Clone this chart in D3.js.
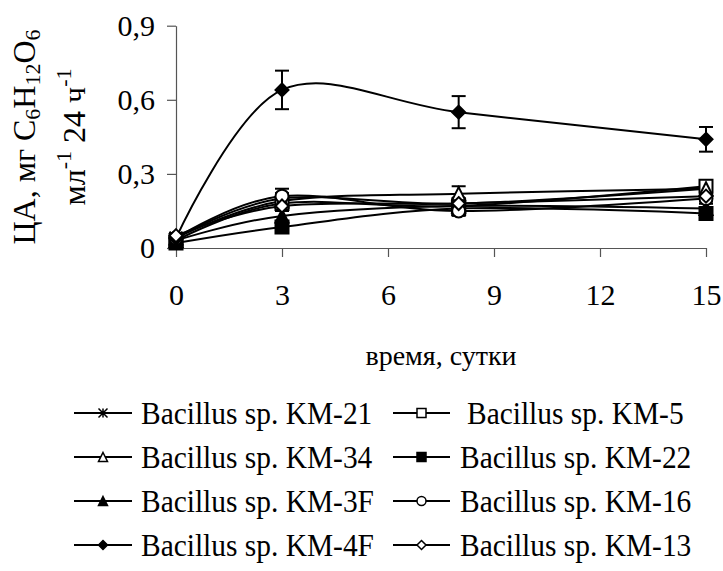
<!DOCTYPE html>
<html>
<head>
<meta charset="utf-8">
<script src="https://cdn.jsdelivr.net/npm/d3@7"></script>
<style>
  body { margin: 0; background: #fff; }
  text { font-family: "Liberation Serif", "Times New Roman", serif; fill: #000; }
</style>
</head>
<body>
<svg id="chart" width="723" height="571" font-family="Liberation Serif, Times New Roman, serif"></svg>
<script>
"use strict";

// data ************************************************************
var days = [0, 3, 8, 15];
var xTicks = [0, 3, 6, 9, 12, 15];
var yTicks = [0, 0.3, 0.6, 0.9];
var yTickLabels = ["0", "0,3", "0,6", "0,9"];

var seriesNames = ["Bacillus sp. KM-21", "Bacillus sp. KM-5", "Bacillus sp. KM-34", "Bacillus sp. KM-22",
                   "Bacillus sp. KM-3F", "Bacillus sp. KM-16", "Bacillus sp. KM-4F", "Bacillus sp. KM-13"];
var seriesMarkers = ["star", "squareOpen", "triangleOpen", "square", "triangle", "circleOpen", "diamond", "diamondOpen"];

var km21 = [0.04, 0.20, 0.18, 0.24];
var km5  = [0.03, 0.18, 0.17, 0.25];
var km34 = [0.04, 0.19, 0.22, 0.24];
var km22 = [0.02, 0.085, 0.16, 0.14];
var km3F = [0.03, 0.13, 0.17, 0.16];
var km16 = [0.04, 0.21, 0.15, 0.20];
var km4F = [0.04, 0.64, 0.55, 0.44];
var km13 = [0.05, 0.17, 0.18, 0.21];

var err21 = [0.01, 0.02, 0.02, 0.02];
var err5  = [0.01, 0.02, 0.02, 0.025];
var err34 = [0.01, 0.02, 0.03, 0.02];
var err22 = [0.01, 0.02, 0.02, 0.02];
var err3F = [0.01, 0.02, 0.02, 0.02];
var err16 = [0.01, 0.03, 0.02, 0.02];
var err4F = [0.01, 0.078, 0.065, 0.05];
var err13 = [0.01, 0.02, 0.02, 0.02];

var seriesValues = [km21, km5, km34, km22, km3F, km16, km4F, km13];
var seriesErrors = [err21, err5, err34, err22, err3F, err16, err4F, err13];

//variables *************************************************************
var svg = d3.select("#chart");
var x = d3.scaleLinear().domain([0, 15]).range([176, 706]);
var y = d3.scaleLinear().domain([0, 0.9]).range([248, 25.7]);
var fontSize = 30;

var line = d3.line()
  .x(function(d) { return x(d.day); })
  .y(function(d) { return y(d.v); })
  .curve(d3.curveCardinal.tension(0));

function markerPath(type, r) {
  if (type === "star") {
    return "M0," + (-r) + "L0," + r +
           "M" + (-r) + "," + (-r) + "L" + r + "," + r +
           "M" + (-r) + "," + r + "L" + r + "," + (-r);
  }
  if (type === "squareOpen" || type === "square") {
    return "M" + (-r) + "," + (-r) + "H" + r + "V" + r + "H" + (-r) + "Z";
  }
  if (type === "triangleOpen" || type === "triangle") {
    return "M0," + (-r) + "L" + r + "," + r + "L" + (-r) + "," + r + "Z";
  }
  if (type === "circleOpen") {
    return d3.symbol(d3.symbolCircle, Math.PI * r * r)();
  }
  return "M0," + (-r) + "L" + r + ",0L0," + r + "L" + (-r) + ",0Z";
}
function markerFill(type) {
  return /Open$/.test(type) ? "#fff" : (type === "star" ? "none" : "#000");
}

//axes ************************************************************
var yAxis = d3.axisLeft(y).tickValues(yTicks)
  .tickFormat(function(d, i) { return yTickLabels[i]; })
  .tickSize(9).tickSizeOuter(0).tickPadding(12);
var gy = svg.append("g").attr("transform", "translate(176,0)").call(yAxis);

var xAxis = d3.axisBottom(x).tickValues(xTicks)
  .tickSize(9).tickSizeOuter(0).tickPadding(27);
var gx = svg.append("g").attr("transform", "translate(0,248)").call(xAxis);

[gx, gy].forEach(function(g) {
  g.attr("font-family", null);
  g.selectAll("path, line").attr("stroke", "#555").attr("stroke-width", 1.2);
  g.selectAll("text").attr("font-size", fontSize)
    .style("font-family", "'Liberation Serif', 'Times New Roman', serif");
});

//lines ************************************************************
var series = seriesNames.map(function(n, i) {
  return {
    name: n, marker: seriesMarkers[i],
    pts: days.map(function(d, j) { return { day: d, v: seriesValues[i][j], e: seriesErrors[i][j] }; })
  };
});

var plot = svg.append("g");
plot.selectAll("path.series").data(series).enter().append("path")
  .attr("class", "series")
  .attr("d", function(s) { return line(s.pts); })
  .attr("fill", "none").attr("stroke", "#000").attr("stroke-width", 2);

// error bars
series.forEach(function(s) {
  var eg = plot.append("g").attr("stroke", "#000").attr("stroke-width", 2);
  s.pts.forEach(function(p) {
    eg.append("line").attr("x1", x(p.day)).attr("x2", x(p.day)).attr("y1", y(p.v - p.e)).attr("y2", y(p.v + p.e));
    eg.append("line").attr("x1", x(p.day) - 7).attr("x2", x(p.day) + 7).attr("y1", y(p.v - p.e)).attr("y2", y(p.v - p.e));
    eg.append("line").attr("x1", x(p.day) - 7).attr("x2", x(p.day) + 7).attr("y1", y(p.v + p.e)).attr("y2", y(p.v + p.e));
  });
});

// markers
series.forEach(function(s) {
  plot.selectAll(null).data(s.pts).enter().append("path")
    .attr("transform", function(p) { return "translate(" + x(p.day) + "," + y(p.v) + ")"; })
    .attr("d", markerPath(s.marker, 6.5))
    .attr("fill", markerFill(s.marker))
    .attr("stroke", "#000").attr("stroke-width", 2);
});

//titles ************************************************************
svg.append("text")
  .attr("x", 441).attr("y", 365)
  .attr("text-anchor", "middle").attr("font-size", 28)
  .text("время, сутки");

var yt = svg.append("g").attr("transform", "translate(0,137) rotate(-90)");
var t1 = yt.append("text").attr("x", 0).attr("y", 35).attr("text-anchor", "middle").attr("font-size", 32);
t1.append("tspan").text("ЦА, мг C");
t1.append("tspan").attr("font-size", 22).attr("dy", 5).text("6");
t1.append("tspan").attr("dy", -5).text("H");
t1.append("tspan").attr("font-size", 22).attr("dy", 5).text("12");
t1.append("tspan").attr("dy", -5).text("O");
t1.append("tspan").attr("font-size", 22).attr("dy", 5).text("6");

var t2 = yt.append("text").attr("x", 0).attr("y", 85).attr("text-anchor", "middle").attr("font-size", 32);
t2.append("tspan").text("мл");
t2.append("tspan").attr("font-size", 22).attr("dy", -14).text("-1");
t2.append("tspan").attr("dy", 14).text(" 24 ч");
t2.append("tspan").attr("font-size", 22).attr("dy", -14).text("-1");

//legend ************************************************************
var legendCols = [{ x1: 74, x2: 132, tx: 141 }, { x1: 393, x2: 450, tx: 460 }];
var legendRowY = [424, 468, 512, 556];

var legend = svg.selectAll(".legend").data(series).enter().append("g")
  .attr("class", "legend")
  .attr("transform", function(d, i) {
    return "translate(0," + legendRowY[Math.floor(i / 2)] + ")";
  });

legend.append("line")
  .attr("x1", function(d, i) { return legendCols[i % 2].x1; })
  .attr("x2", function(d, i) { return legendCols[i % 2].x2; })
  .attr("y1", -11).attr("y2", -11)
  .attr("stroke", "#000").attr("stroke-width", 2);

legend.append("path")
  .attr("transform", function(d, i) {
    var c = legendCols[i % 2];
    return "translate(" + ((c.x1 + c.x2) / 2) + ",-11)";
  })
  .attr("d", function(d) { return markerPath(d.marker, 4.5); })
  .attr("fill", function(d) { return markerFill(d.marker); })
  .attr("stroke", "#000").attr("stroke-width", 1.5);

legend.append("text")
  .attr("transform", function(d, i) {
    return "translate(" + (legendCols[i % 2].tx + (i === 1 ? 7 : 0)) + ",0) scale(0.92,1)";
  })
  .attr("font-size", 32)
  .text(function(d) { return d.name; });
</script>
</body>
</html>
